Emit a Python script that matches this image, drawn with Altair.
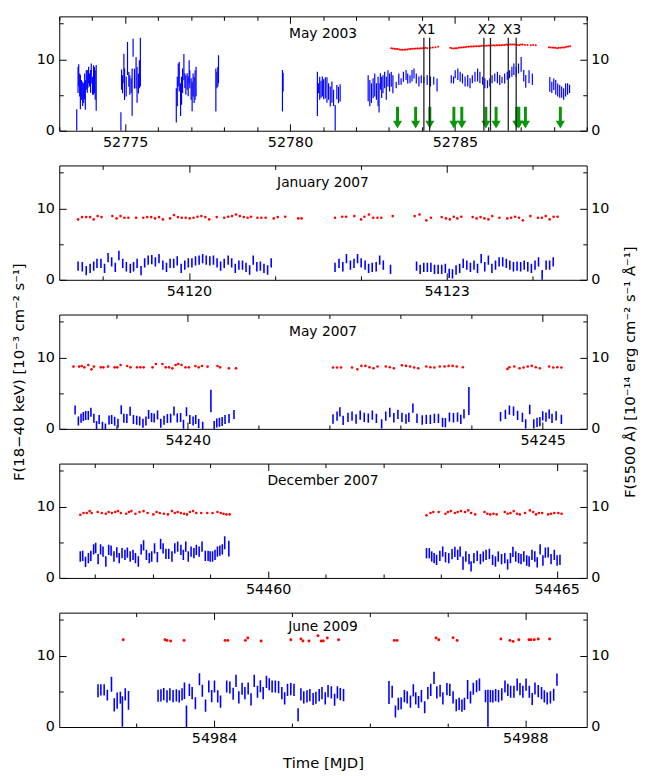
import math
import altair as alt
import pandas as pd

FONT = "DejaVu Sans"
BLUE = "#0000ff"
RED = "#ff0000"
GREEN = "#0a960a"
W, H = 535, 116
Y_DOMAIN = [0, 16]

# ===================== Panel 1 : May 2003 =====================
may03_c1_t = [52773.53, 52773.57, 52773.59, 52773.62, 52773.64, 52773.67, 52773.71, 52773.74, 52773.77, 52773.79,
              52773.82, 52773.85, 52773.87, 52773.89, 52773.92, 52773.95, 52773.97, 52774.01, 52774.04, 52774.07,
              52774.09, 52774.12]
may03_c1_v = [1.5, 7.1, 7.75, 6.4, 5.4, 5.7, 5.15, 5.27, 6.2, 5.0, 7.1, 6.9, 6.9, 7.8, 7.1, 6.9, 8.0, 6.3, 7.1, 7.1,
              6.4, 6.0]
may03_c1_e = [1.5, 1.83, 1.56, 1.6, 2.4, 1.4, 1.7, 1.38, 1.8, 2.06, 1.37, 1.6, 0.9, 1.15, 0.9, 1.6, 1.4, 1.26, 2.06,
              1.83, 2.06, 3.2]

may03_c2_t = [52774.87, 52774.89, 52774.92, 52774.96, 52774.98, 52775.03, 52775.07, 52775.11, 52775.14, 52775.18,
              52775.21, 52775.24, 52775.28, 52775.33, 52775.36, 52775.40, 52775.43, 52775.46]
may03_c2_v = [1.3, 7.15, 6.5, 8.7, 6.5, 6.2, 10.1, 7.2, 6.4, 6.3, 5.4, 11.6, 7.3, 8.1, 6.4, 6.6, 7.9, 9.6]
may03_c2_e = [1.3, 1.42, 1.26, 2.06, 2.2, 1.4, 2.3, 1.03, 1.38, 1.03, 3.3, 1.26, 1.38, 2.2, 2.5, 1.38, 1.95, 3.4]

may03_c3_t = [52776.55, 52776.58, 52776.61, 52776.64, 52776.68, 52776.71, 52776.74, 52776.78, 52776.81, 52776.84,
              52776.88, 52776.91, 52776.94, 52776.96, 52777.00, 52777.03, 52777.06, 52777.09, 52777.12, 52777.15]
may03_c3_v = [3.55, 5.5, 7.8, 7.55, 4.35, 5.6, 7.0, 8.9, 7.0, 6.4, 6.9, 6.2, 8.25, 7.2, 5.85, 4.8, 6.4, 5.7, 6.4, 6.9]
may03_c3_e = [2.4, 2.06, 1.6, 2.06, 2.3, 1.95, 1.72, 1.83, 1.03, 1.38, 1.15, 1.38, 1.6, 1.26, 1.5, 2.06, 1.6, 1.83,
              2.06, 2.06]

may03_c4_t = [52777.75, 52777.78, 52777.81, 52777.83, 52779.77, 52779.79]
may03_c4_v = [5.7, 7.1, 7.55, 8.6, 5.6, 6.8]
may03_c4_e = [3.0, 1.15, 1.38, 1.95, 2.9, 1.3]

may03_c5_t = [52780.83, 52780.86, 52780.90, 52780.94, 52780.98, 52781.02, 52781.07, 52781.12, 52781.17, 52781.22,
              52781.27, 52781.32, 52781.37, 52781.42, 52781.47, 52781.52]
may03_c5_v = [5.15, 5.96, 5.95, 5.8, 6.2, 5.8, 6.0, 5.7, 5.5, 4.8, 5.4, 4.6, 1.8, 5.4, 5.0, 5.3]
may03_c5_e = [3.1, 0.7, 1.6, 1.2, 1.4, 1.4, 1.5, 1.8, 1.15, 1.4, 1.5, 1.15, 1.8, 1.0, 1.15, 1.2]

may03_c6_t = [52782.37, 52782.42, 52782.47, 52782.52, 52782.57, 52782.62, 52782.67, 52782.70, 52782.74, 52782.78,
              52782.82, 52782.87, 52782.92, 52782.97, 52783.02, 52783.07, 52783.12, 52783.22, 52783.30, 52783.37,
              52783.44, 52783.52, 52783.57, 52783.64, 52783.70, 52783.76, 52783.83, 52783.91, 52783.98, 52784.06,
              52784.16, 52784.26, 52784.36, 52784.46]
may03_c6_v = [5.95, 5.27, 5.27, 5.95, 6.4, 5.5, 5.5, 4.6, 6.9, 6.07, 6.5, 7.1, 5.95, 7.3, 6.75, 7.2, 6.5, 6.4, 7.2,
              6.9, 7.55, 7.8, 7.3, 7.2, 7.7, 8.0, 7.3, 6.9, 7.2, 7.1, 7.1, 6.9, 7.0, 6.4]
may03_c6_e = [1.83, 1.83, 1.38, 1.38, 1.6, 1.15, 2.06, 2.06, 1.15, 1.5, 1.26, 1.15, 1.6, 1.15, 1.26, 1.03, 1.26, 0.46,
              0.8, 0.46, 0.7, 0.7, 0.7, 0.57, 0.8, 0.7, 0.7, 0.7, 0.57, 0.46, 0.7, 0.7, 0.57, 0.9]

may03_c7_t = [52784.89, 52784.96, 52785.01, 52785.09, 52785.16, 52785.23, 52785.31, 52785.39, 52785.46, 52785.53,
              52785.61, 52785.69, 52785.76, 52785.84, 52785.91, 52785.99, 52786.06, 52786.13, 52786.21, 52786.29,
              52786.36, 52786.43, 52786.51, 52786.59, 52786.66, 52786.73, 52786.79, 52786.86, 52786.93, 52787.01,
              52787.09, 52787.15, 52787.25, 52787.35]
may03_c7_v = [7.2, 7.1, 7.9, 7.9, 7.55, 7.3, 6.9, 7.0, 6.65, 7.2, 7.55, 7.8, 7.45, 7.0, 6.65, 6.5, 6.75, 7.2, 7.45,
              7.45, 7.1, 7.1, 7.3, 7.7, 7.9, 8.25, 8.6, 8.25, 8.7, 9.3, 7.7, 6.9, 7.55, 7.2]
may03_c7_e = [0.57, 0.5, 0.57, 0.8, 0.7, 0.7, 0.7, 0.8, 0.7, 0.57, 0.7, 0.9, 0.8, 0.57, 0.7, 0.57, 0.57, 0.57, 0.57,
              0.8, 0.7, 0.46, 0.7, 0.57, 0.57, 0.7, 0.8, 0.7, 0.7, 1.03, 0.8, 0.9, 0.9, 0.8]

may03_c8_t = [52787.88, 52787.94, 52788.00, 52788.06, 52788.12, 52788.18, 52788.24, 52788.30, 52788.36, 52788.42,
              52788.48]
may03_c8_v = [6.5, 6.07, 6.5, 6.07, 5.7, 5.5, 5.4, 5.15, 5.7, 5.85, 5.85]
may03_c8_e = [1.03, 0.8, 0.8, 1.03, 0.9, 0.9, 0.8, 0.8, 0.9, 0.8, 0.57]

may03_red_t = [52783.07, 52783.117, 52783.167, 52783.216, 52783.266, 52783.316, 52783.366, 52783.416, 52783.466,
               52783.516, 52783.565, 52783.615, 52783.665, 52783.715, 52783.765, 52783.815, 52783.864, 52783.914,
               52783.964, 52784.014, 52784.064, 52784.114, 52784.164, 52784.263, 52784.333, 52784.413, 52784.493,
               52784.861, 52784.911, 52784.961, 52785.011, 52785.061, 52785.111, 52785.161, 52785.210, 52785.260,
               52785.310, 52785.360, 52785.410, 52785.460, 52785.510, 52785.559, 52785.609, 52785.659, 52785.709,
               52785.759, 52785.809, 52785.859, 52785.908, 52785.958, 52786.008, 52786.058, 52786.108, 52786.158,
               52786.207, 52786.257, 52786.307, 52786.357, 52786.407, 52786.457, 52786.507, 52786.556, 52786.606,
               52786.656, 52786.706, 52786.756, 52786.806, 52786.856, 52786.905, 52786.955, 52787.005, 52787.055,
               52787.125, 52787.204, 52787.304, 52787.374, 52787.454,
               52787.853, 52787.902, 52787.952, 52788.002, 52788.052, 52788.102, 52788.152, 52788.201, 52788.251,
               52788.301, 52788.351, 52788.401, 52788.451, 52788.501]
may03_red_v = [11.55, 11.51, 11.46, 11.42, 11.42, 11.37, 11.33, 11.33, 11.33, 11.37, 11.37, 11.42, 11.42, 11.46,
               11.46, 11.51, 11.51, 11.51, 11.55, 11.55, 11.55, 11.6, 11.55, 11.6, 11.65, 11.69, 11.74,
               11.6, 11.55, 11.51, 11.55, 11.55, 11.6, 11.65, 11.65, 11.69, 11.69, 11.74, 11.74, 11.78, 11.78,
               11.78, 11.83, 11.83, 11.83, 11.83, 11.88, 11.88, 11.88, 11.88, 11.92, 11.92, 11.92, 11.97, 11.92,
               11.97, 11.97, 11.97, 11.97, 12.01, 12.01, 12.06, 12.01, 12.06, 12.06, 12.06, 12.06, 12.06, 12.01,
               12.01, 12.06, 12.06, 12.01, 12.01, 11.97, 12.01, 11.97,
               11.69, 11.65, 11.65, 11.6, 11.6, 11.55, 11.6, 11.6, 11.65, 11.65, 11.69, 11.74, 11.78, 11.83]

may03_arrow_t = [52783.26, 52783.81, 52784.24, 52784.97, 52785.21, 52785.94, 52786.25, 52786.88, 52786.94,
                 52787.14, 52788.20]
may03_xline_t = [52784.06, 52784.235, 52785.88, 52786.08, 52786.62, 52786.86]
may03_xlab_t = [52784.14, 52785.97, 52786.74]
may03_xlab = ["X1", "X2", "X3"]

# ===================== Panel 2 : January 2007 =====================
jan07_blue_t = [54118.709, 54118.758, 54118.804, 54118.849, 54118.891, 54118.929, 54118.975, 54119.017, 54119.058,
                54119.100, 54119.142, 54119.184, 54119.229, 54119.271, 54119.317, 54119.355, 54119.396, 54119.442,
                54119.484, 54119.525, 54119.567, 54119.609, 54119.651, 54119.696, 54119.738, 54119.780, 54119.822,
                54119.863, 54119.909, 54119.951, 54119.992, 54120.034, 54120.076, 54120.118, 54120.159, 54120.201,
                54120.243, 54120.285, 54120.327, 54120.368, 54120.410, 54120.456, 54120.497, 54120.539, 54120.581,
                54120.623, 54120.664, 54120.706, 54120.748, 54120.790, 54120.831, 54120.873, 54120.915, 54120.957,
                54121.700, 54121.746, 54121.791, 54121.833, 54121.879, 54121.921, 54121.962, 54122.004, 54122.050,
                54122.091, 54122.133, 54122.179, 54122.220, 54122.262, 54122.346,
                54122.649, 54122.691, 54122.733, 54122.775, 54122.816, 54122.858, 54122.900, 54122.942, 54122.984,
                54123.029, 54123.067, 54123.109, 54123.151, 54123.192, 54123.234, 54123.276, 54123.318, 54123.359,
                54123.401, 54123.443, 54123.485, 54123.526, 54123.568, 54123.610, 54123.652, 54123.694, 54123.735,
                54123.777, 54123.819, 54123.861, 54123.902, 54123.944, 54123.986, 54124.028, 54124.069, 54124.111,
                54124.157, 54124.198, 54124.240]
jan07_blue_v = [1.92, 1.83, 1.28, 1.6, 1.92, 2.29, 2.29, 1.6, 3.1, 2.5, 1.74, 3.4, 2.29, 1.83, 1.6, 1.83, 2.29,
                1.28, 2.37, 2.74, 2.83, 2.5, 2.97, 2.06, 1.74, 2.29, 2.29, 2.65, 1.6, 2.06, 2.37, 2.37, 2.65, 2.74,
                2.97, 2.74, 2.65, 2.74, 2.37, 1.92, 2.29, 2.74, 2.37, 1.6, 2.06, 2.06, 1.74, 1.37, 2.74, 1.83, 1.92,
                1.6, 1.37, 2.37,
                1.74, 2.29, 1.83, 2.97, 2.06, 2.29, 2.97, 2.37, 2.06, 1.6, 1.74, 1.83, 2.74, 2.06, 1.46,
                1.92, 1.46, 1.74, 1.74, 1.74, 1.46, 1.46, 1.46, 1.6, 0.91, 0.82, 1.37, 1.6, 2.29, 2.06, 1.74, 2.06,
                1.6, 2.97, 1.83, 2.74, 1.6, 2.06, 2.51, 2.51, 2.29, 2.06, 1.83, 1.92, 1.83, 2.06, 1.83, 1.6, 2.06,
                2.51, 0.68, 2.06, 2.06, 2.51]
jan07_blue_e = [0.65, 0.65, 0.65, 0.65, 0.65, 0.65, 0.65, 0.65, 0.65, 0.65, 0.65, 0.65, 0.65, 0.65, 0.65, 0.65,
                0.65, 0.65, 0.65, 0.65, 0.65, 0.65, 0.65, 0.65, 0.65, 0.65, 0.65, 0.65, 0.65, 0.65, 0.65, 0.65,
                0.65, 0.65, 0.65, 0.65, 0.65, 0.65, 0.65, 0.65, 0.65, 0.65, 0.65, 0.65, 0.65, 0.65, 0.65, 0.65,
                0.65, 0.65, 0.65, 0.65, 0.65, 0.65,
                0.65, 0.65, 0.65, 0.65, 0.65, 0.65, 0.65, 0.65, 0.65, 0.65, 0.65, 0.65, 0.65, 0.65, 0.65,
                0.65, 0.65, 0.65, 0.65, 0.65, 0.65, 0.65, 0.65, 0.65, 0.65, 0.65, 0.65, 0.65, 0.65, 0.65, 0.65,
                0.65, 0.65, 0.65, 0.65, 0.65, 0.65, 0.65, 0.65, 0.65, 0.65, 0.65, 0.65, 0.65, 0.65, 0.65, 0.65,
                0.65, 0.65, 0.65, 0.7, 0.65, 0.65, 0.65]
jan07_red_t = [54118.709, 54118.755, 54118.804, 54118.849, 54118.891, 54118.937, 54118.982, 54119.108, 54119.157,
               54119.203, 54119.248, 54119.294, 54119.385, 54119.468, 54119.514, 54119.560, 54119.605, 54119.651,
               54119.696, 54119.780, 54119.825, 54119.871, 54119.916, 54119.962, 54120.008, 54120.053, 54120.099,
               54120.144, 54120.190, 54120.235, 54120.323, 54120.410, 54120.456, 54120.501, 54120.547, 54120.592,
               54120.638, 54120.683, 54120.721, 54120.797, 54120.843, 54120.892, 54120.987, 54121.033, 54121.120,
               54121.272, 54121.310,
               54121.700, 54121.784, 54121.829, 54121.924, 54122.004, 54122.042, 54122.095, 54122.145, 54122.194,
               54122.239, 54122.372,
               54122.627, 54122.684, 54122.763, 54122.816, 54122.942, 54122.991, 54123.037, 54123.082, 54123.124,
               54123.170, 54123.302, 54123.348, 54123.394, 54123.439, 54123.485, 54123.530, 54123.614, 54123.705,
               54123.750, 54123.796, 54123.842, 54123.887, 54123.974, 54124.062, 54124.107, 54124.153, 54124.198,
               54124.244, 54124.290]
jan07_red_v = [8.45, 8.77, 8.77, 8.77, 8.45, 8.91, 8.77, 8.91, 8.59, 8.91, 8.68, 8.68, 8.68, 8.68, 8.77, 8.77,
               8.59, 8.77, 8.45, 8.59, 9.05, 8.77, 8.68, 8.68, 8.59, 8.68, 8.82, 8.91, 8.77, 8.45, 8.77, 8.68,
               8.82, 8.91, 9.14, 8.91, 8.77, 8.68, 8.82, 8.68, 8.68, 8.68, 8.59, 8.77, 8.82, 8.59, 8.59,
               8.68, 8.82, 8.82, 8.91, 8.45, 8.82, 9.14, 8.68, 8.68, 8.68, 8.91,
               8.91, 9.14, 8.32, 8.68, 8.77, 8.59, 8.45, 8.82, 8.59, 8.82, 8.77, 8.59, 8.77, 8.59, 8.45, 8.91,
               8.68, 8.59, 8.68, 8.82, 8.68, 8.32, 8.91, 8.68, 8.68, 8.91, 8.45, 8.82, 8.82]

# ===================== Panel 3 : May 2007 =====================
may07_blue_t = [54238.413, 54238.459, 54238.497, 54238.529, 54238.562, 54238.599, 54238.636, 54238.678, 54238.715,
                54238.752, 54238.798, 54238.840, 54238.891, 54238.928, 54238.970, 54239.017, 54239.063, 54239.100,
                54239.142, 54239.188, 54239.235, 54239.281, 54239.323, 54239.369, 54239.411, 54239.448, 54239.490,
                54239.527, 54239.574, 54239.620, 54239.666, 54239.713, 54239.759, 54239.806, 54239.852, 54239.899,
                54239.940, 54239.982, 54240.029, 54240.075, 54240.112, 54240.154, 54240.210, 54240.326, 54240.372,
                54240.409, 54240.446, 54240.484, 54240.525, 54240.581, 54240.651,
                54242.046, 54242.103, 54242.143, 54242.189, 54242.257, 54242.314, 54242.371, 54242.429, 54242.486,
                54242.543, 54242.600, 54242.657, 54242.731, 54242.789, 54242.846, 54242.903, 54242.960, 54243.017,
                54243.074, 54243.114, 54243.171, 54243.229, 54243.303, 54243.360, 54243.417, 54243.474, 54243.531,
                54243.589, 54243.629, 54243.686, 54243.743, 54243.800, 54243.846, 54243.891, 54243.960,
                54244.406, 54244.474, 54244.531, 54244.589, 54244.646, 54244.714, 54244.760, 54244.817, 54244.874,
                54244.920, 54244.960, 54245.000, 54245.046, 54245.091, 54245.131, 54245.189, 54245.263]
may07_blue_v = [2.64, 1.11, 1.48, 1.72, 1.86, 1.86, 2.32, 1.48, 0.46, 1.3, 0.37, 0.14, 1.25, 1.3, 1.07, 0.79, 2.69,
                1.48, 1.44, 2.46, 1.3, 1.2, 1.11, 0.79, 1.11, 2.0, 1.58, 1.53, 1.95, 0.79, 1.2, 1.44, 1.48, 2.5,
                1.53, 1.58, 0.65, 2.41, 1.3, 1.11, 1.3, 0.74, 0.37, 3.9, 0.46, 0.83, 0.93, 1.02, 1.3, 1.44, 2.0,
                1.38, 1.79, 2.39, 1.19, 1.61, 1.79, 1.38, 1.93, 1.61, 1.51, 1.93, 1.47, 0.69, 1.79, 2.29, 1.56,
                2.02, 1.61, 1.38, 1.61, 2.89, 1.47, 1.24, 1.33, 1.33, 1.47, 1.47, 0.92, 0.87, 1.65, 1.56, 1.65,
                1.33, 2.11, 3.9,
                1.7, 2.02, 2.61, 2.48, 1.88, 1.61, 0.69, 2.71, 0.69, 0.92, 1.01, 1.83, 1.65, 2.06, 1.47, 1.83, 1.33]
may07_blue_e = [0.63, 0.63, 0.63, 0.63, 0.63, 0.63, 0.63, 0.63, 0.63, 0.63, 0.63, 0.63, 0.63, 0.63, 0.63, 0.63,
                0.63, 0.63, 0.63, 0.63, 0.63, 0.63, 0.63, 0.63, 0.63, 0.63, 0.63, 0.63, 0.63, 0.63, 0.63, 0.63,
                0.63, 0.63, 0.63, 0.63, 0.63, 0.63, 0.63, 0.63, 0.63, 0.63, 0.63, 1.57, 0.63, 0.63, 0.63, 0.63,
                0.63, 0.63, 0.63,
                0.65, 0.65, 0.65, 0.65, 0.65, 0.65, 0.65, 0.65, 0.65, 0.65, 0.65, 0.65, 0.65, 0.65, 0.65, 0.65,
                0.65, 0.65, 0.65, 0.65, 0.65, 0.65, 0.65, 0.65, 0.65, 0.65, 0.65, 0.65, 0.65, 0.65, 0.65, 0.65,
                0.65, 0.65, 1.97,
                0.65, 0.65, 0.65, 0.65, 0.65, 0.65, 0.65, 0.65, 0.65, 0.65, 0.65, 0.65, 0.65, 0.65, 0.65, 0.65,
                0.65]
may07_red_t = [54238.390, 54238.469, 54238.506, 54238.543, 54238.599, 54238.645, 54238.678, 54238.775, 54238.812,
               54238.877, 54238.970, 54239.007, 54239.054, 54239.147, 54239.193, 54239.286, 54239.332, 54239.379,
               54239.504, 54239.551, 54239.643, 54239.690, 54239.736, 54239.783, 54239.829, 54239.866, 54239.913,
               54239.968, 54240.015, 54240.108, 54240.154, 54240.200, 54240.279, 54240.419, 54240.456, 54240.581,
               54240.679,
               54242.046, 54242.103, 54242.160, 54242.314, 54242.389, 54242.446, 54242.503, 54242.560, 54242.617,
               54242.674, 54242.789, 54242.846, 54242.903, 54243.017, 54243.074, 54243.131, 54243.189, 54243.246,
               54243.360, 54243.417, 54243.474, 54243.549, 54243.617, 54243.674, 54243.731, 54243.789, 54243.874,
               54244.503, 54244.531, 54244.600, 54244.674, 54244.731, 54244.789, 54244.846, 54244.903, 54244.960,
               54245.091, 54245.149, 54245.206, 54245.263]
may07_red_v = [8.71, 8.71, 8.8, 8.61, 8.94, 8.33, 8.71, 8.61, 8.61, 8.71, 8.61, 8.61, 8.94, 8.8, 8.61, 8.61, 8.61,
               8.61, 8.61, 9.08, 9.08, 8.61, 8.61, 8.47, 8.94, 9.08, 8.94, 8.61, 8.61, 8.8, 8.61, 8.8, 8.71, 8.8,
               8.61, 8.47, 8.47,
               8.58, 8.58, 8.58, 8.58, 8.35, 8.81, 8.81, 8.62, 8.49, 8.72, 8.72, 8.62, 8.49, 8.9, 8.81, 8.72, 8.58,
               8.49, 8.72, 8.62, 8.58, 8.72, 8.72, 8.81, 8.81, 8.72, 8.62,
               8.39, 8.62, 8.72, 8.49, 8.58, 8.72, 8.81, 8.62, 8.49, 8.72, 8.58, 8.62, 8.58]

# ===================== Panel 4 : December 2007 =====================
dec07_blue_t = [54456.744, 54456.786, 54456.835, 54456.885, 54456.927, 54456.976, 54457.011, 54457.053, 54457.096,
                54457.138, 54457.187, 54457.236, 54457.278, 54457.328, 54457.377, 54457.419, 54457.468, 54457.518,
                54457.560, 54457.609, 54457.658, 54457.700, 54457.750, 54457.799, 54457.841, 54457.890, 54457.940,
                54457.982, 54458.031, 54458.080, 54458.136, 54458.179, 54458.228, 54458.277, 54458.333, 54458.382,
                54458.432, 54458.488, 54458.530, 54458.572, 54458.615, 54458.664, 54458.713, 54458.755, 54458.804,
                54458.854, 54458.910, 54458.959, 54458.994, 54459.036, 54459.079, 54459.121, 54459.163, 54459.205,
                54459.247, 54459.318,
                54462.743, 54462.792, 54462.834, 54462.876, 54462.918, 54462.975, 54463.024, 54463.073, 54463.129,
                54463.186, 54463.235, 54463.284, 54463.326, 54463.376, 54463.425, 54463.481, 54463.516, 54463.565,
                54463.622, 54463.678, 54463.727, 54463.776, 54463.833, 54463.889, 54463.938, 54463.987, 54464.044,
                54464.100, 54464.149, 54464.198, 54464.241, 54464.290, 54464.339, 54464.381, 54464.430, 54464.480,
                54464.522, 54464.571, 54464.620, 54464.662, 54464.712, 54464.761, 54464.803, 54464.852, 54464.902,
                54464.958, 54465.007, 54465.056]
dec07_blue_v = [3.0, 3.09, 2.26, 2.76, 3.09, 4.0, 4.19, 2.63, 4.0, 3.69, 2.3, 3.92, 3.82, 3.0, 3.59, 2.76, 3.46,
                3.23, 3.55, 3.0, 3.23, 2.76, 2.3, 4.0, 4.56, 3.23, 2.76, 3.0, 4.15, 2.9, 4.75, 4.15, 3.36, 3.36, 3.0,
                4.15, 4.38, 3.92, 3.23, 4.38, 3.0, 3.69, 3.46, 3.92, 3.69, 4.38, 3.09, 3.09, 3.0, 3.0, 3.23, 3.69,
                3.82, 4.0, 4.93, 4.1,
                3.46, 3.46, 3.0, 2.76, 2.53, 3.09, 3.69, 2.9, 2.76, 3.32, 3.64, 3.23, 3.69, 2.07, 3.0, 2.63, 1.61,
                2.76, 3.09, 2.63, 3.0, 3.23, 3.36, 2.53, 2.3, 3.0, 2.63, 2.76, 1.89, 2.76, 3.64, 3.0, 2.76, 2.63,
                3.0, 2.44, 2.3, 3.23, 3.0, 2.17, 4.0, 2.44, 3.55, 3.59, 2.63, 3.23, 2.44, 2.53]
dec07_blue_e = [0.72, 0.72, 0.72, 0.72, 0.72, 0.72, 0.72, 0.72, 0.72, 0.72, 0.72, 0.72, 0.72, 0.72, 0.72, 0.72,
                0.72, 0.72, 0.72, 0.72, 0.72, 0.72, 0.72, 0.72, 0.72, 0.72, 0.72, 0.72, 0.72, 0.72, 0.72, 0.72,
                0.72, 0.72, 0.72, 0.72, 0.72, 0.72, 0.72, 0.72, 0.72, 0.72, 0.72, 0.72, 0.72, 0.72, 0.72, 0.72,
                0.72, 0.72, 0.72, 0.72, 0.72, 0.72, 0.92, 1.1,
                0.72, 0.72, 0.72, 0.72, 0.72, 0.72, 0.72, 0.72, 0.72, 0.72, 0.72, 0.72, 0.72, 0.92, 0.72, 0.72,
                0.72, 0.72, 0.72, 0.72, 0.72, 0.72, 0.72, 0.72, 0.72, 0.72, 0.72, 0.72, 0.72, 0.72, 0.72, 0.72,
                0.72, 0.72, 0.72, 0.72, 0.72, 0.72, 0.72, 0.72, 0.72, 0.72, 0.72, 0.72, 0.72, 0.72, 0.72, 0.72]
dec07_red_t = [54456.744, 54456.800, 54456.857, 54456.906, 54456.941, 54457.046, 54457.117, 54457.187, 54457.236,
               54457.292, 54457.349, 54457.398, 54457.447, 54457.539, 54457.588, 54457.630, 54457.700, 54457.771,
               54457.841, 54457.911, 54458.010, 54458.066, 54458.122, 54458.193, 54458.263, 54458.333, 54458.382,
               54458.432, 54458.488, 54458.544, 54458.593, 54458.643, 54458.699, 54458.755, 54458.840, 54458.945,
               54459.036, 54459.121, 54459.177, 54459.226, 54459.276, 54459.332,
               54462.743, 54462.813, 54462.862, 54462.954, 54463.073, 54463.115, 54463.165, 54463.235, 54463.284,
               54463.340, 54463.411, 54463.467, 54463.516, 54463.587, 54463.748, 54463.797, 54463.847, 54463.903,
               54463.959, 54464.100, 54464.149, 54464.198, 54464.255, 54464.311, 54464.360, 54464.452, 54464.536,
               54464.592, 54464.641, 54464.691, 54464.747, 54464.852, 54464.902, 54464.958, 54465.028, 54465.084]
dec07_red_v = [8.85, 9.08, 9.08, 9.35, 9.08, 9.22, 9.08, 8.99, 9.22, 9.08, 9.22, 9.35, 9.08, 8.99, 9.22, 9.35, 8.99,
               9.22, 9.35, 9.08, 8.89, 9.22, 9.08, 8.99, 8.89, 9.35, 9.08, 9.22, 9.08, 8.99, 8.89, 9.22, 9.35, 9.08,
               9.08, 9.08, 9.08, 9.22, 9.08, 8.99, 8.89, 8.89,
               8.76, 9.08, 9.22, 9.22, 8.99, 9.22, 9.35, 9.08, 9.22, 9.35, 9.22, 9.45, 9.08, 8.89, 9.22, 8.99, 8.89,
               8.99, 8.89, 9.22, 8.99, 9.08, 9.35, 8.99, 8.89, 9.08, 9.45, 9.22, 8.89, 9.08, 9.08, 8.89, 8.99, 9.08,
               9.08, 8.99]

# ===================== Panel 5 : June 2009 =====================
jun09_blue_t = [54982.508, 54982.545, 54982.587, 54982.628, 54982.681, 54982.717, 54982.754, 54982.795, 54982.821,
                54982.858, 54982.900,
                54983.280, 54983.317, 54983.353, 54983.395, 54983.432, 54983.473, 54983.515, 54983.552, 54983.588,
                54983.619, 54983.645, 54983.682, 54983.718, 54983.760, 54983.812, 54983.849, 54983.890, 54983.932,
                54983.969, 54984.005, 54984.047, 54984.083, 54984.162, 54984.203, 54984.245, 54984.282, 54984.318,
                54984.360, 54984.396, 54984.438, 54984.475, 54984.516, 54984.558, 54984.595, 54984.631, 54984.673,
                54984.709, 54984.746, 54984.787, 54984.829, 54984.871, 54984.907, 54984.944, 54984.986, 54985.027,
                54985.080, 54985.116, 54985.153, 54985.194, 54985.231, 54985.273, 54985.309, 54985.351, 54985.387,
                54985.429, 54985.465, 54985.507, 54985.549, 54985.585, 54985.622, 54985.664,
                54986.248, 54986.289, 54986.331, 54986.368, 54986.404, 54986.446, 54986.482, 54986.524, 54986.561,
                54986.592, 54986.628, 54986.665, 54986.707, 54986.748, 54986.785, 54986.827, 54986.863, 54986.905,
                54986.941, 54986.993, 54987.030, 54987.072, 54987.113, 54987.150, 54987.186, 54987.218, 54987.259,
                54987.296, 54987.332, 54987.374, 54987.411, 54987.489, 54987.520, 54987.552, 54987.583, 54987.619,
                54987.656, 54987.698, 54987.739, 54987.776, 54987.812, 54987.854, 54987.896, 54987.932, 54987.969,
                54988.010, 54988.052, 54988.089, 54988.125, 54988.167, 54988.209, 54988.245, 54988.282, 54988.323,
                54988.365, 54988.407]
jun09_blue_v = [5.07, 5.2, 5.2, 4.47, 5.99, 3.09, 3.69, 4.1, 2.17, 4.56, 3.73,
                4.38, 4.42, 4.61, 4.29, 4.56, 4.33, 4.42, 4.29, 4.56, 5.07, 1.52, 5.2, 4.75, 3.32, 6.68, 5.07, 3.0,
                5.67, 4.33, 5.67, 4.29, 3.55, 5.67, 5.53, 4.65, 6.45, 4.15, 5.35, 4.75, 5.39, 3.87, 6.45, 4.93, 5.71,
                4.75, 6.31, 5.99, 5.67, 5.67, 5.58, 4.75, 4.0, 5.2, 5.3, 5.2, 1.71, 4.56, 4.15, 4.29, 4.47, 3.92,
                4.1, 4.47, 4.75, 4.0, 5.02, 4.84, 3.82, 4.84, 4.61, 4.47,
                4.84, 4.93, 2.17, 3.23, 3.32, 4.33, 4.15, 3.55, 5.12, 4.0, 3.5, 4.33, 2.76, 4.75, 5.2, 6.87, 4.84,
                5.07, 4.0, 5.3, 5.2, 4.15, 3.04, 3.23, 3.0, 3.23, 5.25, 4.15, 5.35, 5.71, 5.94, 4.33, 2.63, 4.33,
                4.29, 4.47, 4.33, 4.56, 5.67, 5.2, 4.93, 4.93, 5.94, 5.3, 4.93, 5.94, 4.93, 3.92, 5.39, 5.02, 4.75,
                4.29, 4.0, 4.15, 4.52, 6.64]
jun09_blue_e = [0.92, 0.8, 0.8, 0.76, 1.06, 0.92, 1.15, 0.85, 2.14, 0.85, 1.31,
                0.85, 0.85, 0.85, 0.85, 0.85, 0.85, 0.85, 0.85, 0.85, 1.15, 1.5, 0.85, 0.85, 0.85, 0.85, 0.85,
                0.85, 0.85, 0.85, 0.85, 0.85, 0.85, 0.85, 0.85, 0.85, 0.85, 0.85, 0.85, 0.85, 0.85, 0.85, 0.85,
                0.85, 0.85, 0.85, 0.85, 0.85, 0.85, 0.85, 0.85, 0.85, 0.85, 0.85, 0.85, 0.85, 0.92, 0.85, 0.85,
                0.85, 0.85, 0.85, 0.85, 0.85, 0.85, 0.85, 0.85, 0.85, 0.85, 0.85, 0.85, 0.85,
                1.61, 0.85, 0.85, 0.85, 0.85, 0.85, 0.85, 0.85, 0.85, 0.85, 0.85, 0.85, 0.85, 0.85, 0.85, 0.85,
                0.85, 0.85, 0.85, 0.85, 0.85, 0.85, 0.85, 0.85, 0.85, 0.85, 1.34, 0.85, 0.85, 0.85, 0.85, 0.85,
                2.6, 0.85, 0.85, 0.85, 0.85, 0.85, 0.85, 0.85, 0.85, 0.85, 0.85, 0.85, 0.85, 0.85, 0.85, 0.85,
                0.85, 0.85, 0.85, 0.85, 0.85, 0.85, 0.85, 0.85]
jun09_red_t = [54982.832, 54983.369, 54983.395, 54983.442, 54983.614, 54984.141, 54984.177, 54984.402, 54984.433,
               54984.605, 54984.986, 54985.116, 54985.142, 54985.220, 54985.335, 54985.377, 54985.403, 54985.455,
               54985.601, 54986.316, 54986.352, 54986.853, 54986.889, 54987.072, 54987.124, 54987.687, 54987.802,
               54987.844, 54987.917, 54988.047, 54988.073, 54988.115, 54988.167, 54988.313]
jun09_red_v = [12.21, 12.21, 12.12, 12.03, 12.12, 12.12, 12.12, 12.12, 12.44, 12.03, 12.21, 12.3, 12.03, 12.03,
               12.76, 12.03, 12.03, 12.44, 12.21, 12.12, 12.12, 12.44, 12.21, 12.49, 12.12, 12.3, 12.12, 11.98,
               12.21, 12.21, 12.21, 12.21, 12.3, 12.3]

LEFT_TITLE = "F(18\u221240 keV) [10\u207b\u00b3 cm\u207b\u00b2 s\u207b\u00b9]"
RIGHT_TITLE = "F(5500 \u00c5) [10\u207b\u00b9\u2074 erg cm\u207b\u00b2 s\u207b\u00b9 \u00c5\u207b\u00b9]"


def make_panel(name, dom, step, base, bt, bv, be, rt, rv, title_y=18,
               ltitle=None, rtitle=None, xtitle=None, extra=None, bar_w=1.6, dot_size=7):
    blue = pd.DataFrame({"t": bt, "v": bv, "e": be})
    blue["lo"] = blue["v"] - blue["e"]
    blue["hi"] = blue["v"] + blue["e"]
    red = pd.DataFrame({"t": rt, "v": rv})
    xs = alt.Scale(domain=dom, nice=False, zero=False)
    ys = alt.Scale(domain=Y_DOMAIN, nice=False, zero=False)
    xticks = list(range(math.ceil(dom[0]), math.floor(dom[1]) + 1))
    xt = f"(datum.value - {base}) % {step} === 0"
    yt = "datum.value % 10 === 0"

    def xaxis(orient, show, ttl):
        return alt.Axis(orient=orient, values=xticks, format="d", labels=show,
                        labelExpr=f"{xt} ? datum.label : ''",
                        tickSize={"condition": {"test": xt, "value": -7}, "value": -4},
                        labelPadding=12, labelFlush=False, labelOverlap=False,
                        grid=False, domain=False, title=ttl, titlePadding=8)

    def yaxis(orient, ttl, lp, **kw):
        return alt.Axis(orient=orient, values=[0, 5, 10, 15],
                        labelExpr=f"{yt} ? datum.label : ''",
                        tickSize={"condition": {"test": yt, "value": -7}, "value": -4},
                        labelPadding=lp, labelFlush=False, labelOverlap=False,
                        grid=False, domain=False, title=ttl, **kw)

    bars = alt.Chart(blue).mark_rule(color=BLUE, strokeWidth=bar_w, clip=True).encode(
        x=alt.X("t:Q", scale=xs, axis=xaxis("bottom", True, xtitle)),
        y=alt.Y("lo:Q", scale=ys, axis=yaxis("left", ltitle, 12, titlePadding=10)),
        y2="hi:Q",
    )
    dots = alt.Chart(red).mark_circle(color=RED, size=dot_size, opacity=1).encode(
        x=alt.X("t:Q", scale=xs, axis=xaxis("top", False, None)),
        y=alt.Y("v:Q", scale=ys, axis=yaxis("right", rtitle, 11, titlePadding=14,
                                             titleAngle=270, titleBaseline="top")),
    )
    lab = alt.Chart(pd.DataFrame({"s": [name]})).mark_text(
        font=FONT, fontSize=14, color="black").encode(
        x=alt.value(W / 2), y=alt.value(title_y), text="s:N")
    layers = [bars, dots] + (extra(xs) if extra else []) + [lab]
    return alt.layer(*layers).resolve_axis(x="independent", y="independent").properties(width=W, height=H)


def may03_extra(xs):
    arrows = pd.DataFrame({"t": may03_arrow_t})
    xl = pd.DataFrame({"t": may03_xline_t})
    xlab = pd.DataFrame({"t": may03_xlab_t, "s": may03_xlab})
    shaft = alt.Chart(arrows).mark_rule(color=GREEN, strokeWidth=3).encode(
        x=alt.X("t:Q", scale=xs, axis=None), y=alt.YDatum(3.35, axis=None), y2=alt.Y2Datum(1.3))
    head = alt.Chart(arrows).mark_point(shape="triangle-down", filled=True, size=85,
                                        color=GREEN, opacity=1).encode(
        x=alt.X("t:Q", scale=xs, axis=None), y=alt.YDatum(0.85, axis=None))
    lines = alt.Chart(xl).mark_rule(color="#222222", strokeWidth=1.3).encode(
        x=alt.X("t:Q", scale=xs, axis=None), y=alt.YDatum(0, axis=None), y2=alt.Y2Datum(13.0))
    texts = alt.Chart(xlab).mark_text(font=FONT, fontSize=14, color="black").encode(
        x=alt.X("t:Q", scale=xs, axis=None), y=alt.YDatum(14.15, axis=None), text="s:N")
    return [shaft, head, lines, texts]


p1 = make_panel("May 2003", [52773.0, 52789.0], 5, 52775,
                may03_c1_t + may03_c2_t + may03_c3_t + may03_c4_t + may03_c5_t + may03_c6_t + may03_c7_t + may03_c8_t,
                may03_c1_v + may03_c2_v + may03_c3_v + may03_c4_v + may03_c5_v + may03_c6_v + may03_c7_v + may03_c8_v,
                may03_c1_e + may03_c2_e + may03_c3_e + may03_c4_e + may03_c5_e + may03_c6_e + may03_c7_e + may03_c8_e,
                may03_red_t, may03_red_v, extra=may03_extra, bar_w=1.2, dot_size=4)
p2 = make_panel("January 2007", [54118.49, 54124.63], 3, 54120,
                jan07_blue_t, jan07_blue_v, jan07_blue_e, jan07_red_t, jan07_red_v)
p3 = make_panel("May 2007", [54238.19, 54245.62], 5, 54240,
                may07_blue_t, may07_blue_v, may07_blue_e, may07_red_t, may07_red_v,
                ltitle=LEFT_TITLE, rtitle=RIGHT_TITLE)
p4 = make_panel("December 2007", [54456.38, 54465.52], 5, 54460,
                dec07_blue_t, dec07_blue_v, dec07_blue_e, dec07_red_t, dec07_red_v)
p5 = make_panel("June 2009", [54982.01, 54988.79], 4, 54984,
                jun09_blue_t, jun09_blue_v, jun09_blue_e, jun09_red_t, jun09_red_v,
                title_y=15, xtitle="Time [MJD]", dot_size=9)

chart = alt.vconcat(p1, p2, p3, p4, p5, spacing=35.2, bounds="flush").properties(
    padding={"left": 3, "top": 1, "right": 0, "bottom": 0}
).configure_view(stroke="black", strokeWidth=1).configure_axis(
    labelFont=FONT, labelFontSize=14.5, labelColor="black",
    titleFont=FONT, titleFontSize=15, titleFontWeight="normal", titleColor="black",
    tickColor="black", tickWidth=1,
)

chart.save("out.html", embed_options={"renderer": "svg", "actions": False})
